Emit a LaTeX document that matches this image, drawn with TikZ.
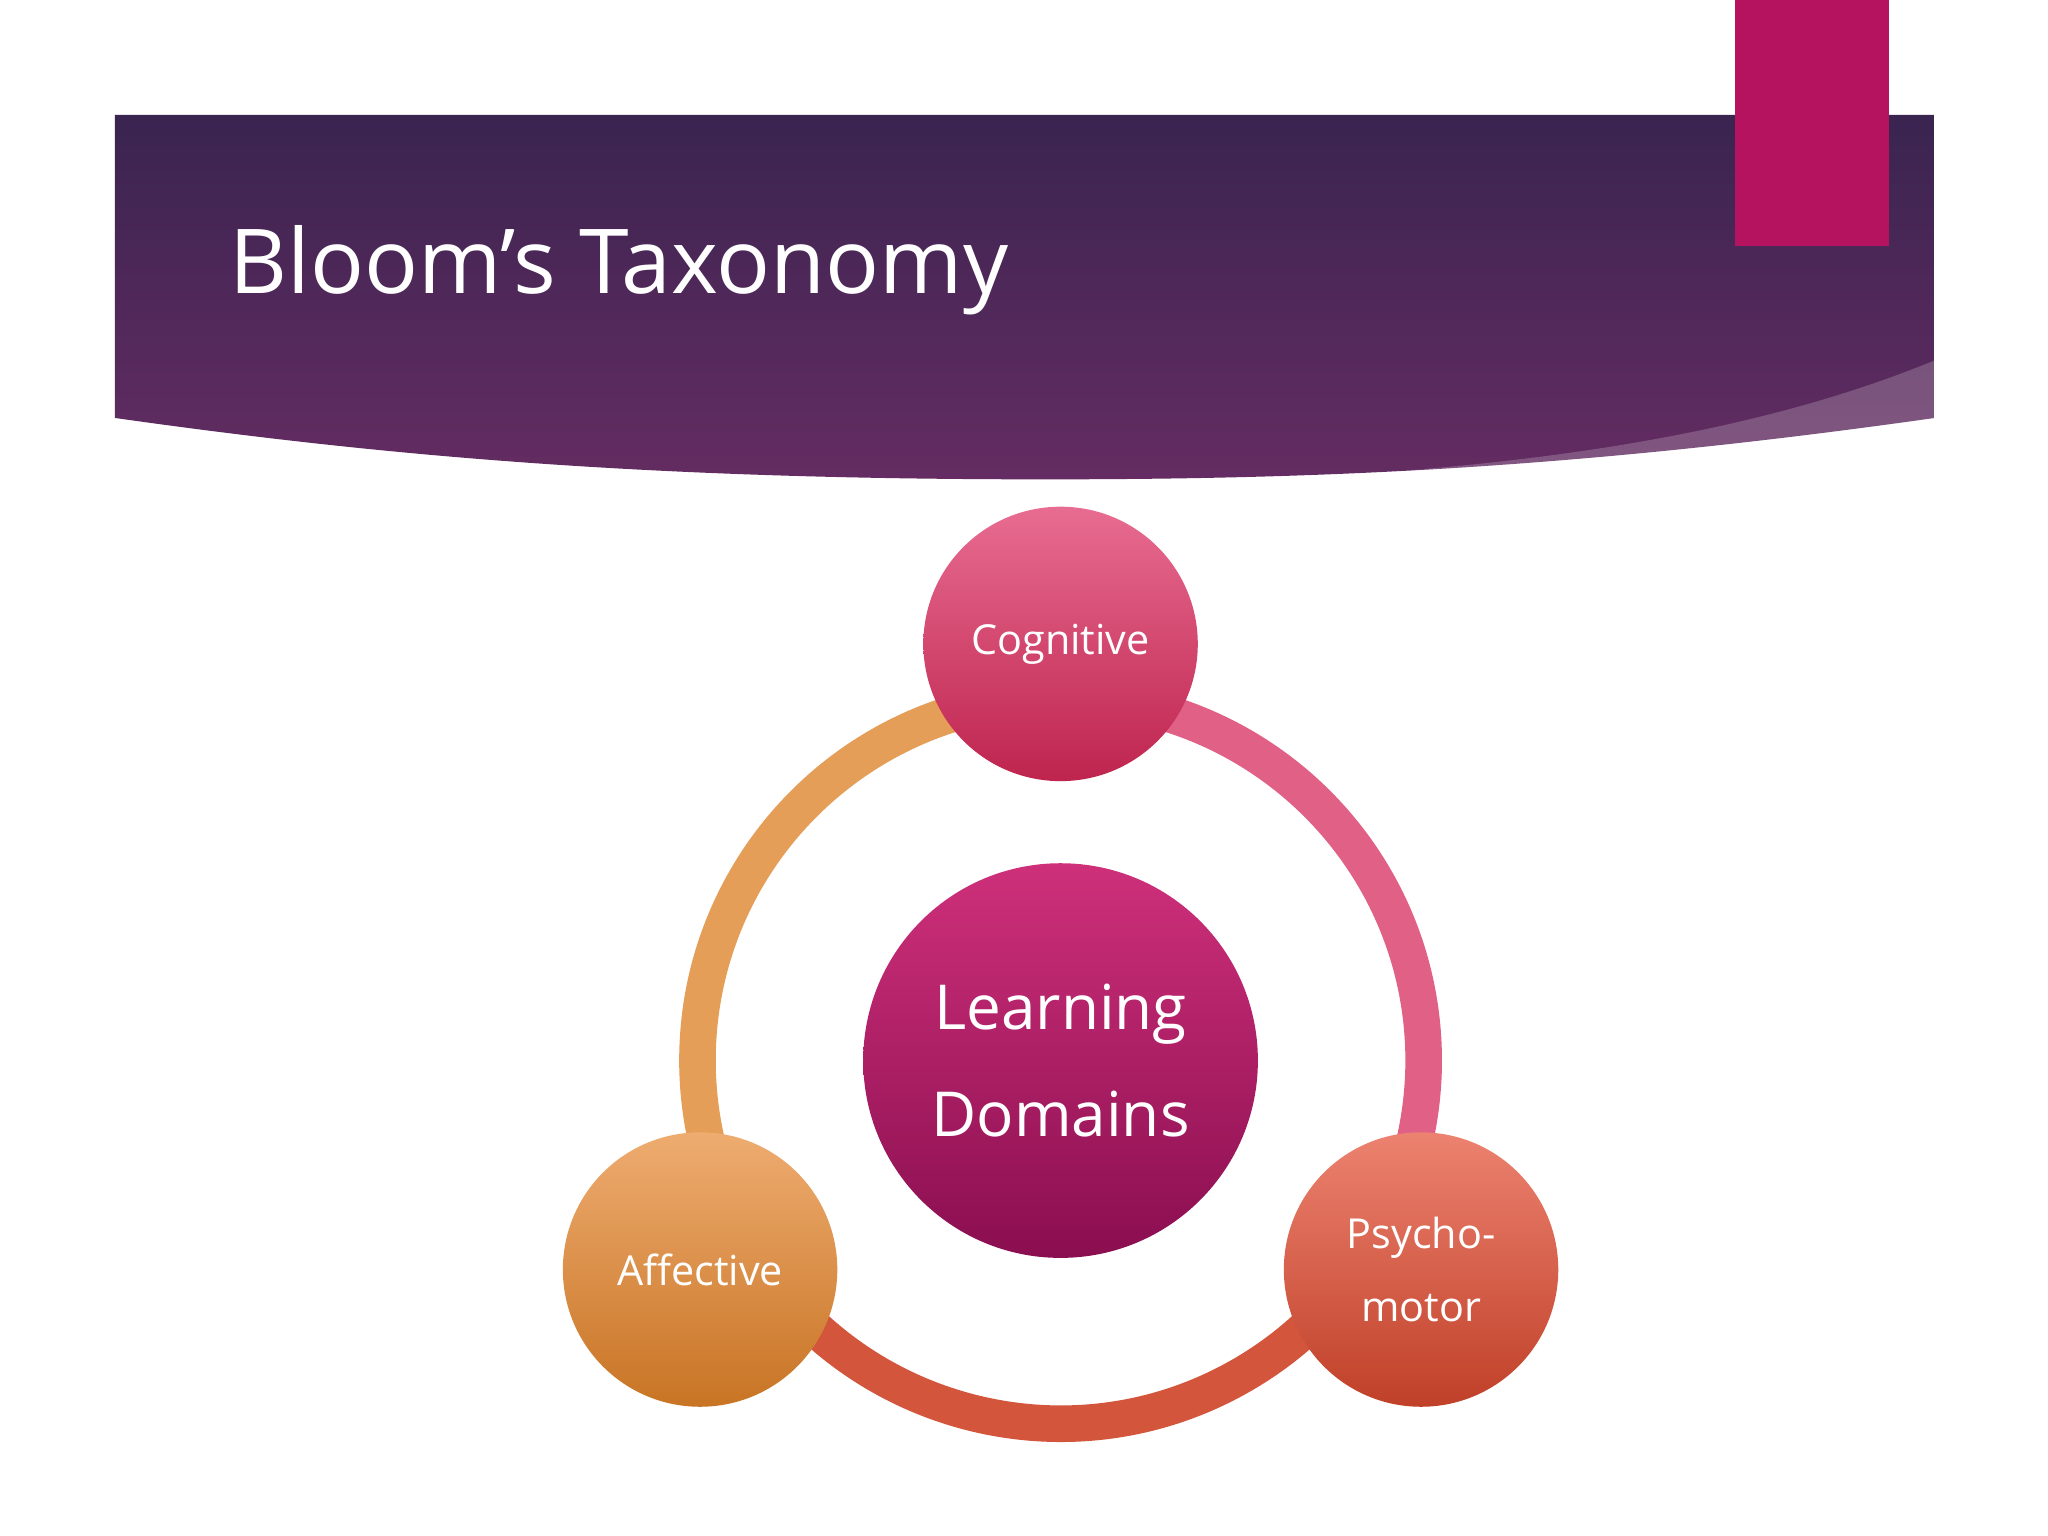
\documentclass[tikz,border=0pt]{standalone}
\usepackage{fontspec}
\setmainfont{Open Sans}
\definecolor{bantop}{RGB}{58,36,80}
\definecolor{banbot}{RGB}{100,44,98}
\definecolor{magbar}{RGB}{181,19,95}
\begin{document}
\begin{tikzpicture}[x=0.01cm,y=-0.01cm,
  bub/.style={circle,inner sep=0pt,text=white,align=center,font=\fontsize{9}{16}\selectfont}]
\useasboundingbox (0,0) rectangle (1568,1176);
\fill[white] (0,0) rectangle (1568,1176);
% banner
\shade[top color=bantop, bottom color=banbot]
  (88,88) -- (1481,88) -- (1481,320) .. controls (1200,360) and (1000,367) .. (800,367)
  .. controls (500,367) and (300,350) .. (88,320) -- cycle;
\fill[white,opacity=0.2] (1481,276) .. controls (1350,330) and (1200,350) .. (1080,360)
  .. controls (1250,352) and (1380,335) .. (1481,320) -- cycle;
\fill[magbar] (1328,0) rectangle (1446,188);
\node[anchor=base west,text=white,font=\fontsize{19.5}{24}\selectfont,inner sep=0pt] (title) at (175,225) {Bloom’s Taxonomy};
% ring
\coordinate (c) at (812,812);
\draw[line width=0.28cm,color={rgb,255:red,228;green,158;blue,88}] (c) ++(90:-278) arc[start angle=-90,end angle=-210,radius=278];
\draw[line width=0.28cm,color={rgb,255:red,224;green,96;blue,134}] (c) ++(90:-278) arc[start angle=-90,end angle=30,radius=278];
\draw[line width=0.28cm,color={rgb,255:red,210;green,85;blue,60}] (c) ++(-210:278) arc[start angle=-210,end angle=-330,radius=278];
% circles
\node[bub,minimum size=2.1cm,top color={rgb,255:red,232;green,108;blue,145},bottom color={rgb,255:red,190;green,36;blue,78}] (cog) at (812,493) {Cognitive};
\node[bub,minimum size=2.1cm,top color={rgb,255:red,238;green,172;blue,112},bottom color={rgb,255:red,200;green,116;blue,36}] (aff) at (536,972) {Affective};
\node[bub,minimum size=2.1cm,top color={rgb,255:red,236;green,130;blue,112},bottom color={rgb,255:red,192;green,64;blue,40}] (psy) at (1088,972) {Psycho-\\motor};
\node[bub,minimum size=3.02cm,top color={rgb,255:red,206;green,48;blue,122},bottom color={rgb,255:red,138;green,14;blue,80},font=\fontsize{13.5}{23.5}\selectfont] (ld) at (812,812) {Learning\\Domains};
\end{tikzpicture}
\end{document}
